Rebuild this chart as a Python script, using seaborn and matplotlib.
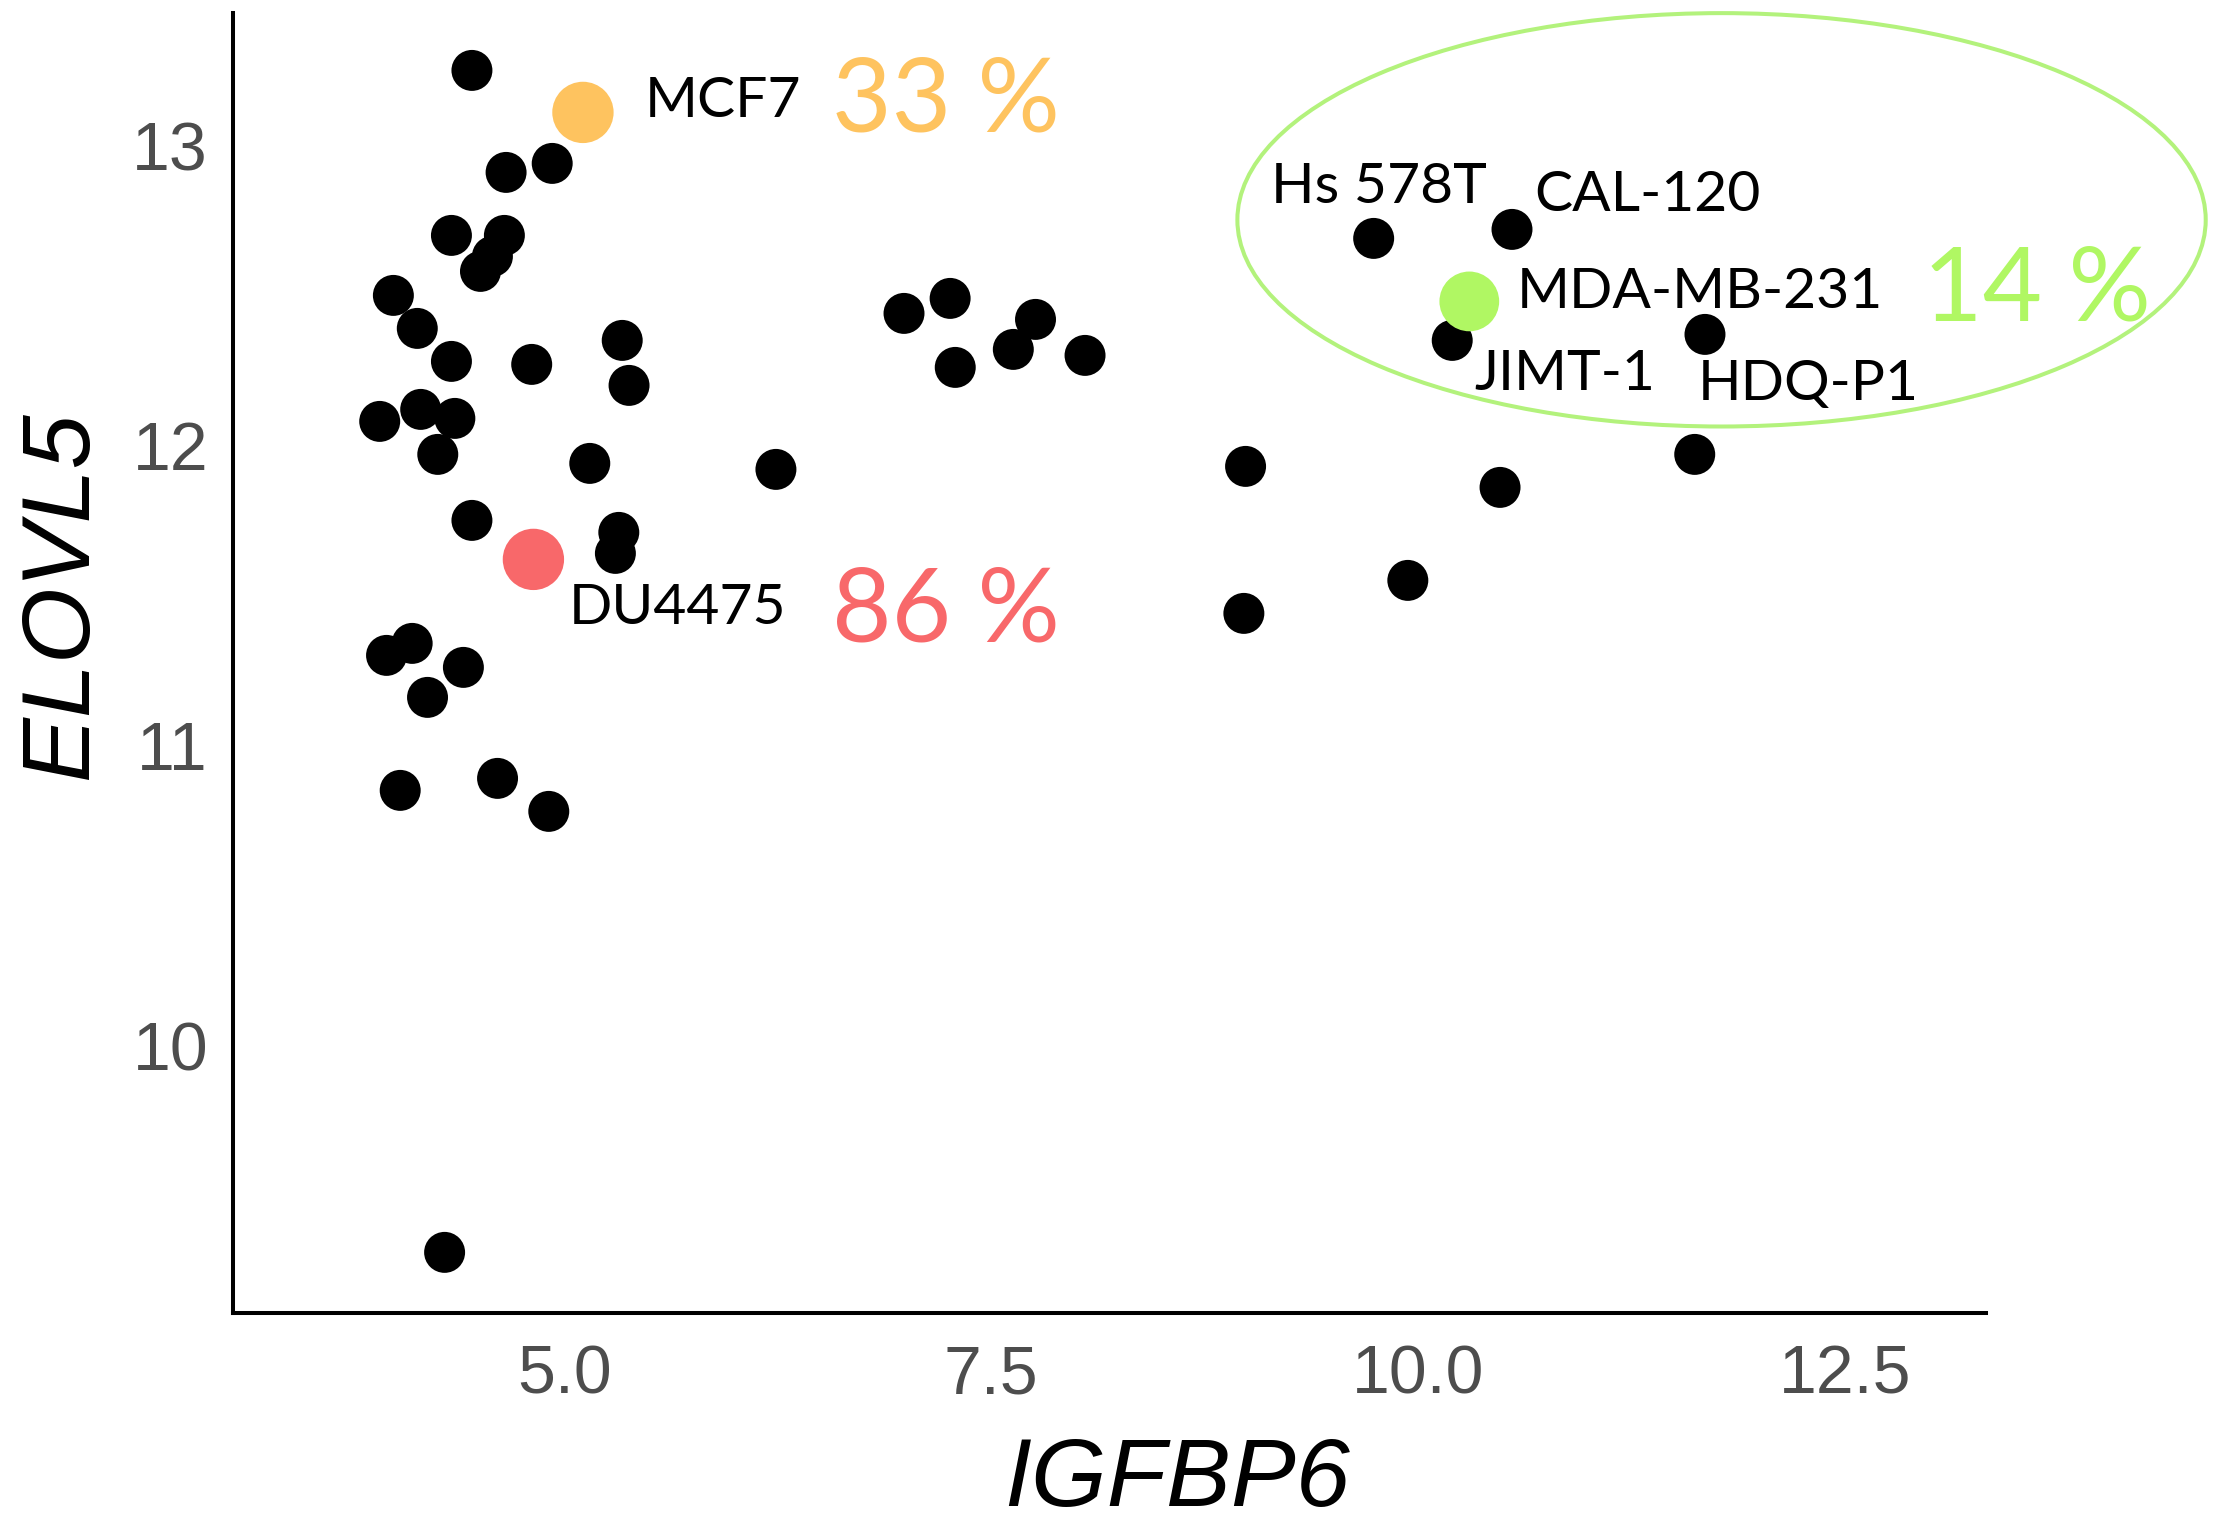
import matplotlib
matplotlib.use("Agg")
import matplotlib.pyplot as plt
from matplotlib.patches import Ellipse
import pandas as pd
import seaborn as sns

# ----------------------------------------
# Data (IGFBP6 vs ELOVL5 expression per cell line)
# ----------------------------------------
igfbp6 = [4.46, 5.11, 4.66, 4.93, 4.34, 4.65, 4.51, 4.58, 4.00, 4.14,
          4.34, 4.81, 5.34, 5.38, 3.92, 4.16, 4.36, 4.26, 5.15, 6.24,
          4.46, 4.82, 5.32, 5.30, 3.96, 4.11, 4.41, 4.20, 4.04, 4.61,
          4.91, 4.30, 6.99, 7.26, 7.29, 7.63, 7.76, 8.05, 8.99, 8.98,
          9.94, 10.48, 11.62, 9.74, 10.55, 10.30, 10.20, 11.68]
elovl5 = [13.25, 13.11, 12.91, 12.94, 12.70, 12.70, 12.58, 12.63, 12.50, 12.39,
          12.28, 12.27, 12.35, 12.20, 12.08, 12.12, 12.09, 11.97, 11.94, 11.92,
          11.75, 11.62, 11.71, 11.64, 11.30, 11.34, 11.26, 11.16, 10.85, 10.89,
          10.78, 9.31, 12.44, 12.49, 12.26, 12.32, 12.42, 12.30, 11.93, 11.44,
          11.55, 11.86, 11.97, 12.69, 12.72, 12.48, 12.35, 12.37]
cell_line = [""] * 48
cell_line[1] = "MCF7"
cell_line[21] = "DU4475"
cell_line[43] = "Hs 578T"
cell_line[44] = "CAL-120"
cell_line[45] = "MDA-MB-231"
cell_line[46] = "JIMT-1"
cell_line[47] = "HDQ-P1"

highlighted = ["MCF7", "DU4475", "MDA-MB-231"]
percent_labels = ["33 %", "86 %", "14 %"]

df = pd.DataFrame({"IGFBP6": igfbp6, "ELOVL5": elovl5, "cell_line": cell_line})
df["group"] = [c if c in highlighted else "other" for c in df["cell_line"]]

colors = {"other": "black", "MCF7": "#fec35f", "DU4475": "#f8686a", "MDA-MB-231": "#b0f763"}
sizes = {"other": 870, "MCF7": 1950, "DU4475": 1950, "MDA-MB-231": 1850}

# label placement (data coords, left edge / baseline)
name_pos = {"MCF7": (5.47, 13.094), "DU4475": (5.025, 11.406),
            "Hs 578T": (9.14, 12.807), "CAL-120": (10.68, 12.78),
            "MDA-MB-231": (10.576, 12.458), "JIMT-1": (10.327, 12.184),
            "HDQ-P1": (11.64, 12.151)}
pct_pos = [(6.57, 13.045), (6.57, 11.347), (12.954, 12.415)]

# ----------------------------------------
# Plot
# ----------------------------------------
sns.set_style("white")
plt.rcParams["font.family"] = ["Liberation Sans", "DejaVu Sans"]

fig = plt.figure(figsize=(22.17, 15.26), dpi=100)
ax = fig.add_axes([0.1051, 0.1396, 0.7909, 0.852])

others = df[df["group"] == "other"]
hl = df[df["group"] != "other"]
sns.scatterplot(data=others, x="IGFBP6", y="ELOVL5", hue="group", size="group",
                palette=colors, sizes=sizes, linewidth=0, legend=False, ax=ax, zorder=3)
sns.scatterplot(data=hl, x="IGFBP6", y="ELOVL5", hue="group", size="group",
                palette=colors, sizes=sizes, linewidth=0, legend=False, ax=ax, zorder=4)

# cell line names
for name, (tx, ty) in name_pos.items():
    ax.text(tx, ty, name, family=["Lato", "DejaVu Sans"], fontsize=41,
            color="black", ha="left", va="baseline", zorder=5)

# response percentages
for lab, grp, (tx, ty) in zip(percent_labels, highlighted, pct_pos):
    ax.text(tx, ty, lab, family=["Lato", "DejaVu Sans"], fontsize=74,
            color=colors[grp], ha="left", va="baseline", zorder=5, clip_on=False)

# ellipse around the MDA-MB-231-like group
ax.add_patch(Ellipse((11.777, 12.752), 5.67, 1.378, fill=False,
                     edgecolor="#b3f27c", linewidth=2.9, clip_on=False, zorder=2))

ax.set_xlim(3.061, 13.328)
ax.set_ylim(9.108, 13.442)
ax.set_xticks([5.0, 7.5, 10.0, 12.5])
ax.set_xticklabels(["5.0", "7.5", "10.0", "12.5"])
ax.set_yticks([10, 11, 12, 13])
ax.set_yticklabels(["10", "11", "12", "13"])

sns.despine(ax=ax)
for side in ["left", "bottom"]:
    ax.spines[side].set_linewidth(2.9)
    ax.spines[side].set_color("black")

ax.tick_params(axis="both", direction="out", length=9, width=1.8, color="#333333",
               labelsize=49, labelcolor="#4d4d4d")
ax.tick_params(axis="y", pad=9)
ax.tick_params(axis="x", pad=13)

ax.set_xlabel("IGFBP6", style="italic", fontsize=70, color="black")
ax.set_ylabel("ELOVL5", style="italic", fontsize=70, color="black")
ax.xaxis.set_label_coords(0.5383, -0.1485)
ax.xaxis.label.set_verticalalignment("baseline")
ax.yaxis.set_label_coords(-0.083, 0.5518)
ax.yaxis.label.set_verticalalignment("baseline")
ax.yaxis.label.set_rotation_mode("anchor")

fig.savefig("out.png", dpi=100)
